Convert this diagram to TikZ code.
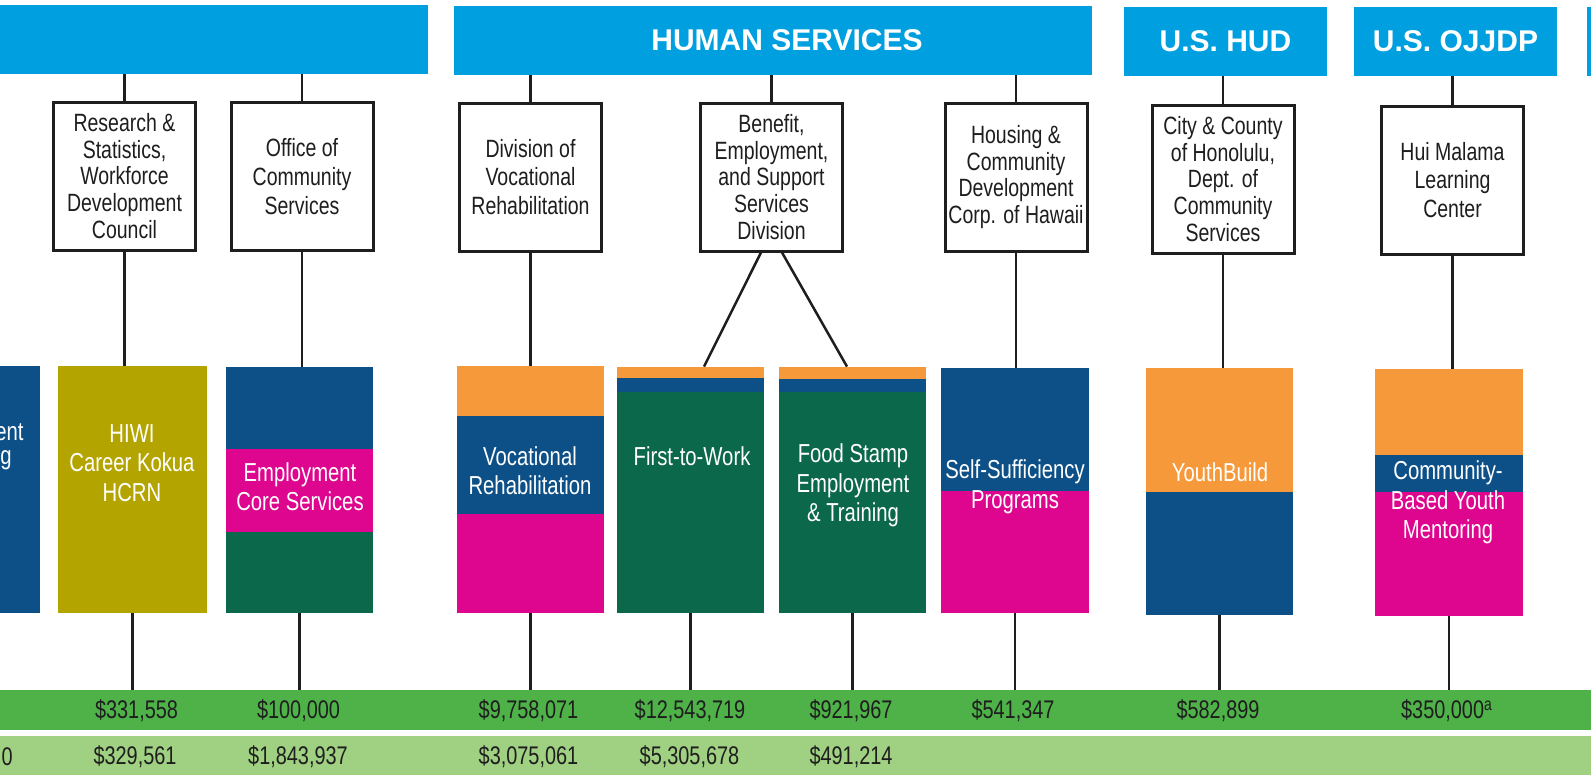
\documentclass[tikz,border=0pt]{standalone}
\usepackage{fontspec}
\setmainfont{Liberation Sans}[FakeStretch=0.78]
\newfontfamily\hdrfont{Liberation Sans}
\usetikzlibrary{calc}
\definecolor{hblue}{RGB}{0,159,223}
\definecolor{dblue}{RGB}{12,80,135}
\definecolor{orng}{RGB}{246,153,58}
\definecolor{mgnt}{RGB}{222,6,142}
\definecolor{dgrn}{RGB}{12,104,74}
\definecolor{olive}{RGB}{180,164,0}
\definecolor{bargrn}{RGB}{78,178,72}
\definecolor{lgrn}{RGB}{160,208,130}
\definecolor{ink}{RGB}{30,30,30}
\begin{document}
\begin{tikzpicture}[x=0.5pt,y=-0.5pt,
  hdr/.style={fill=hblue, inner sep=0pt, minimum height=34.5pt, text=white, font=\hdrfont\bfseries\fontsize{15}{18}\selectfont},
  org/.style={draw=ink, line width=1.5pt, fill=white, minimum width=71pt, minimum height=74pt, inner sep=0pt, align=center, text=ink},
  orgtxtA/.style={font=\fontsize{12.5}{13.35}\selectfont},
  orgtxtB/.style={font=\fontsize{12.5}{14.4}\selectfont},
  prog/.style={inner sep=0pt, minimum height=123.5pt},
  ptxt/.style={text=white, align=center, inner sep=0pt, font=\fontsize{13}{14.75}\selectfont},
  bar/.style={inner sep=0pt, minimum width=800pt, minimum height=20pt},
  amt/.style={text=ink, inner sep=0pt, font=\fontsize{12.75}{14}\selectfont},
  conn/.style={draw=ink, line width=1.25pt}
]
\useasboundingbox (0,0) rectangle (1591,778);
\fill[white] (0,0) rectangle (1591,778);

% header bars
\node[hdr, minimum width=214pt] (h0) at (214,39.5) {};
\node[hdr, minimum width=319pt] (hhs) at (773,40.5) {};
\node[hdr, inner sep=0pt] (hhsT) at (787,40.5) {HUMAN SERVICES};
\node[hdr, minimum width=101.5pt] (hhud) at (1225.5,41.5) {U.S. HUD};
\node[hdr, minimum width=101.5pt] (hoj) at (1455.5,41.5) {U.S. OJJDP};
\node[hdr, minimum width=6.5pt] (hp) at (1593.5,41.5) {};

% green bars
\node[bar, fill=bargrn] (b1) at (795.5,710) {};
\node[bar, fill=lgrn, minimum height=19.5pt] (b2) at (795.5,755.5) {};

% program boxes (segments)
\node[prog, fill=dblue, minimum width=25pt] (lp) at (15,489.5) {};
\node[prog, fill=olive, minimum width=74.5pt] (hiwi) at (132.5,489.5) {};

\fill[dblue] (226,367) rectangle (373,449);
\fill[mgnt] (226,449) rectangle (373,532);
\fill[dgrn] (226,532) rectangle (373,613);
\node[prog, minimum width=73.5pt, minimum height=123pt] (ecs) at (299.5,490) {};

\fill[orng] (457,366) rectangle (604,416);
\fill[dblue] (457,416) rectangle (604,514);
\fill[mgnt] (457,514) rectangle (604,613);
\node[prog, minimum width=73.5pt] (voc) at (530.5,489.5) {};

\fill[orng] (617,367) rectangle (764,378);
\fill[dblue] (617,378) rectangle (764,392);
\fill[dgrn] (617,392) rectangle (764,613);
\node[prog, minimum width=73.5pt, minimum height=123pt] (ftw) at (690.5,490) {};

\fill[orng] (779,367) rectangle (926,379);
\fill[dblue] (779,379) rectangle (926,392);
\fill[dgrn] (779,392) rectangle (926,613);
\node[prog, minimum width=73.5pt, minimum height=123pt] (fse) at (852.5,490) {};

\fill[dblue] (941,368) rectangle (1089,491);
\fill[mgnt] (941,491) rectangle (1089,613);
\node[prog, minimum width=74pt, minimum height=122.5pt] (ssp) at (1015,490.5) {};

\fill[orng] (1146,368) rectangle (1293,492);
\fill[dblue] (1146,492) rectangle (1293,615);
\node[prog, minimum width=73.5pt] (ytb) at (1219.5,491.5) {};

\fill[orng] (1375,369) rectangle (1523,455);
\fill[dblue] (1375,455) rectangle (1523,492);
\fill[mgnt] (1375,492) rectangle (1523,616);
\node[prog, minimum width=74pt] (cbm) at (1449,492.5) {};

% program texts
\node[ptxt, anchor=east] (lpT1) at (24,432) {ent};
\node[ptxt, anchor=east] (lpT2) at (12,460) {g};
\node[ptxt] (hiwiT) at (132,463) {HIWI\\Career Kokua\\HCRN};
\node[ptxt] (ecsT) at (300,486.5) {Employment\\Core Services};
\node[ptxt] (vocT) at (530,470.5) {Vocational\\Rehabilitation};
\node[ptxt] (ftwT) at (692,456) {First-to-Work};
\node[ptxt] (fseT) at (853,485.5) {Food Stamp\\Employment\\\& Training};
\node[ptxt] (sspT) at (1015,487) {Self-Sufficiency\\Programs};
\node[ptxt] (ytbT) at (1220,472) {YouthBuild};
\node[ptxt] (cbmT) at (1448,502.5) {Community-\\Based Youth\\Mentoring};

% organisation boxes
\node[org, orgtxtA] (rsw) at (124.5,176) {Research \&\\Statistics,\\Workforce\\Development\\Council};
\node[org, orgtxtB] (ocs) at (302,176.5) {Office of\\Community\\Services};
\node[org, orgtxtB] (dvr) at (530.5,177) {Division of\\Vocational\\Rehabilitation};
\node[org, orgtxtA] (bes) at (771.5,177) {Benefit,\\Employment,\\and Support\\Services\\Division};
\node[org, orgtxtA] (hcd) at (1016,177) {Housing \&\\Community\\Development\\Corp. of Hawaii};
\node[org, orgtxtA] (cch) at (1223,179) {City \& County\\of Honolulu,\\Dept. of\\Community\\Services};
\node[org, orgtxtB] (hui) at (1452.5,180) {Hui Malama\\Learning\\Center};

% connectors header -> org
\draw[conn] (rsw.north) -- (rsw.north |- h0.south);
\draw[conn] (ocs.north) -- (ocs.north |- h0.south);
\draw[conn] (dvr.north) -- (dvr.north |- hhs.south);
\draw[conn] (bes.north) -- (bes.north |- hhs.south);
\draw[conn] (hcd.north) -- (hcd.north |- hhs.south);
\draw[conn] (cch.north) -- (cch.north |- hhud.south);
\draw[conn] (hui.north) -- (hui.north |- hoj.south);

% org -> program
\draw[conn] (rsw.south) -- (rsw.south |- hiwi.north);
\draw[conn] (ocs.south) -- (ocs.south |- ecs.north);
\draw[conn] (dvr.south) -- (dvr.south |- voc.north);
\draw[conn] ($(bes.south)+(-10.5,0)$) -- ($(ftw.north)+(13.5,0)$);
\draw[conn] ($(bes.south)+(10.5,0)$) -- ($(fse.north)+(-5.5,0)$);
\draw[conn] (hcd.south) -- (hcd.south |- ssp.north);
\draw[conn] (cch.south) -- (cch.south |- ytb.north);
\draw[conn] (hui.south) -- (hui.south |- cbm.north);

% program -> bar
\foreach \p in {hiwi,ecs,voc,ftw,fse,ssp,ytb,cbm}{
  \draw[conn] (\p.south) -- (\p.south |- b1.north);
}

% amounts
\node[amt] (a1) at (136.5,711) {\$331,558};
\node[amt] (a2) at (298.5,711) {\$100,000};
\node[amt] (a3) at (528.5,711) {\$9,758,071};
\node[amt] (a4) at (690,711) {\$12,543,719};
\node[amt] (a5) at (851,711) {\$921,967};
\node[amt] (a6) at (1013,711) {\$541,347};
\node[amt] (a7) at (1218,711) {\$582,899};
\node[amt] (a8) at (1447,711) {\$350,000\textsuperscript{a}};

\node[amt, anchor=east] (c0) at (13,757) {0};
\node[amt] (c1) at (135,757) {\$329,561};
\node[amt] (c2) at (298,757) {\$1,843,937};
\node[amt] (c3) at (528.5,757) {\$3,075,061};
\node[amt] (c4) at (689.5,757) {\$5,305,678};
\node[amt] (c5) at (851,757) {\$491,214};
\end{tikzpicture}
\end{document}
